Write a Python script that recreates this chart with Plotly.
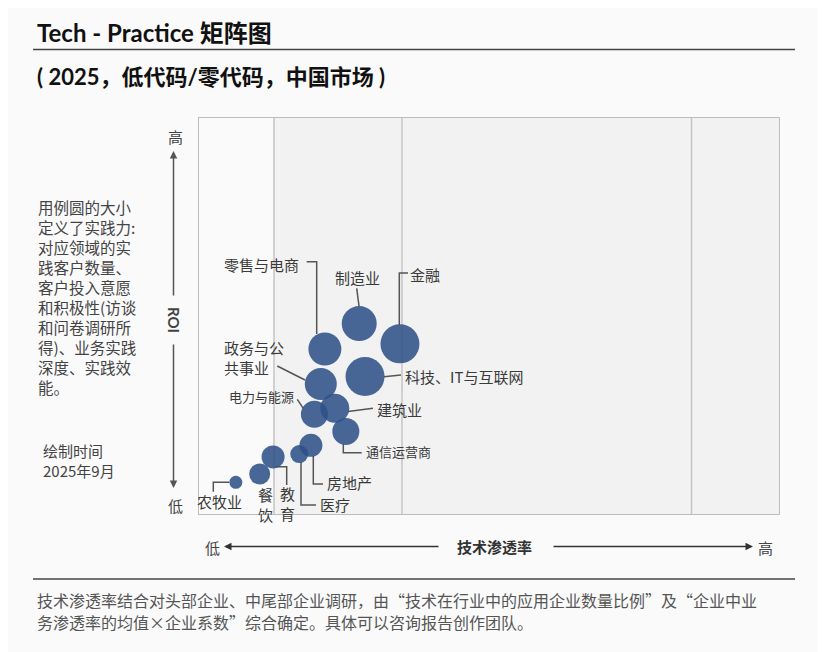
import plotly.graph_objects as go

# ---------------- data ----------------
industries = ["农牧业", "餐饮", "教育", "医疗", "房地产", "通信运营商", "电力与能源",
              "建筑业", "政务与公共事业", "科技、IT与互联网", "零售与电商", "制造业", "金融"]
penetration = [6.5, 10.6, 12.9, 17.4, 19.4, 25.4, 20.0, 23.5, 21.1, 28.7, 21.8, 27.7, 34.7]   # 技术渗透率 (0-100)
roi = [8.2, 10.3, 14.6, 15.3, 17.5, 21.0, 25.3, 26.8, 32.9, 34.8, 41.7, 48.1, 43.0]           # ROI (0-100)
practice = [13, 21, 23, 18, 23, 27, 27, 29, 32, 39, 33, 35, 39]                               # 实践力 (bubble size)
zone_edges = [13.06, 35.05, 84.8]

# ---------------- layout helpers ----------------
OFF = 8                      # page body margin of the browser
W, H = 826 - OFF, 652 - OFF
PL, PR, PT, PB = 198, 780, 117, 515   # plot area in reference page pixels


def dx(px):
    return (px - PL) / (PR - PL) * 100


def dy(py):
    return (PB - py) / (PB - PT) * 100


def ppx(px):
    return (px - PL) / (PR - PL)


def ppy(py):
    return (PB - py) / (PB - PT)


CJK = "Noto Sans CJK SC"
LAT = "Lato, Noto Sans CJK SC"

fig = go.Figure()
fig.add_trace(go.Scatter(
    x=penetration, y=roi, mode="markers", text=industries,
    hovertemplate="%{text}<extra></extra>",
    marker=dict(size=practice, sizemode="diameter", color="#2f5188", opacity=0.88,
                line=dict(width=0)),
    cliponaxis=False, showlegend=False,
))

shapes = []
# light left zone
shapes.append(dict(type="rect", xref="x", yref="y", x0=0, x1=zone_edges[0], y0=0, y1=100,
                   fillcolor="#fafafa", line=dict(width=0), layer="below"))
for e in zone_edges:
    shapes.append(dict(type="line", xref="x", yref="y", x0=e, x1=e, y0=0, y1=100,
                       line=dict(color="#c4c4c4", width=1.5), layer="below"))
shapes.append(dict(type="rect", xref="x", yref="y", x0=0, x1=100, y0=0, y1=100,
                   line=dict(color="#bdbdbd", width=2), layer="below"))

# bubble labels (page-pixel placement) and leader lines
labels = [
    ("农牧业", 219.3, 501.7, "center", 15, [(213.3, 491.7), (213.3, 482.3), (229, 482.3)]),
    ("餐<br>饮", 265, 504, "center", 15, []),
    ("教<br>育", 287.7, 503, "center", 15, [(276, 466.7), (286.7, 466.7), (286.7, 485)]),
    ("医疗", 318.3, 504.3, "left", 15, [(301, 462), (301, 505), (316, 505)]),
    ("房地产", 325, 482.7, "left", 15, [(313.3, 456), (313.3, 484), (323, 484)]),
    ("通信运营商", 364, 451, "left", 13, [(343.3, 444), (343.3, 452.7), (361.7, 452.7)]),
    ("电力与能源", 261.7, 396.7, "center", 13, [(297.3, 399.3), (303.3, 408.3)]),
    ("建筑业", 375, 409.3, "left", 15, [(348, 411.5), (373, 408.3)]),
    ("政务与公<br>共事业", 222, 357, "left", 15, [(277.3, 366), (305, 380)]),
    ("科技、IT与互联网", 403.3, 376.7, "left", 15, [(384, 376.7), (401, 375)]),
    ("零售与电商", 261.7, 264.3, "center", 15, [(306.7, 261.7), (316.7, 261.7), (316.7, 334)]),
    ("制造业", 357.7, 277.7, "center", 15, [(356.7, 288.3), (359, 306)]),
    ("金融", 425, 274.3, "center", 15, [(408, 273), (399.3, 273), (399.3, 325)]),
]

annotations = []
for txt, lx, ly, anc, fs, pts in labels:
    annotations.append(dict(xref="x", yref="y", x=dx(lx), y=dy(ly), text=txt, showarrow=False,
                            xanchor=anc, yanchor="middle", align="left" if anc == "left" else "center",
                            font=dict(family=CJK, size=fs, color="#3a3a3a")))
    if pts:
        path = "M " + " L ".join(f"{dx(a):.3f},{dy(b):.3f}" for a, b in pts)
        shapes.append(dict(type="path", xref="x", yref="y", path=path,
                           line=dict(color="#555555", width=1.5), layer="below"))

# title rules
for yline in (49.5, 579):
    shapes.append(dict(type="line", xref="paper", yref="paper", x0=ppx(33), x1=ppx(795),
                       y0=ppy(yline), y1=ppy(yline), line=dict(color="#444444", width=1.3)))


def page_text(txt, px, py, size, color="#333333", bold=False, anchor="left", family=CJK, angle=0):
    annotations.append(dict(xref="paper", yref="paper", x=ppx(px), y=ppy(py),
                            text=f"<b>{txt}</b>" if bold else txt, showarrow=False,
                            xanchor=anchor, yanchor="middle", align=anchor if anchor != "center" else "center",
                            textangle=angle, font=dict(family=family, size=size, color=color)))


def arrow(tip, tail, color="#444444"):
    annotations.append(dict(xref="paper", yref="paper", x=ppx(tip[0]), y=ppy(tip[1]),
                            ax=tail[0] - tip[0], ay=tail[1] - tip[1], axref="pixel", ayref="pixel",
                            text="", showarrow=True, arrowhead=2, arrowsize=1, arrowwidth=1.5,
                            arrowcolor=color))


page_text("Tech - Practice 矩阵图", 35, 32, 24, color="#111111", bold=True, family=LAT)
page_text("( 2025，低代码/零代码，中国市场 )", 35, 76, 22, color="#111111", bold=True, family=LAT)

left_lines = ["用例圆的大小", "定义了实践力:", "对应领域的实", "践客户数量、", "客户投入意愿",
              "和积极性(访谈", "和问卷调研所", "得)、业务实践", "深度、实践效", "能。"]
for i, ln in enumerate(left_lines):
    page_text(ln, 36, 206.5 + 20 * i, 15.5, color="#444444")
page_text("绘制时间", 41, 450, 15, color="#444444")
page_text("2025年9月", 41, 470, 15, color="#444444")

# ROI axis
page_text("高", 175, 136, 15, color="#444444", anchor="center")
page_text("低", 175, 505, 15, color="#444444", anchor="center")
page_text("ROI", 174, 320, 15, color="#444444", bold=True, anchor="center", family=LAT, angle=90)
arrow((173.5, 151), (173.5, 297), color="#555555")
arrow((173.5, 488), (173.5, 343), color="#555555")

# penetration axis
page_text("低", 212, 547, 15, color="#444444", anchor="center")
page_text("高", 765, 547, 15, color="#444444", anchor="center")
page_text("技术渗透率", 494, 546, 15, color="#333333", bold=True, anchor="center")
arrow((224, 546.5), (440, 546.5), color="#333333")
arrow((753, 546.5), (552, 546.5), color="#333333")

# footer
page_text("技术渗透率结合对头部企业、中尾部企业调研，由“技术在行业中的应用企业数量比例”及“企业中业",
          35, 600, 16, color="#555555")
page_text("务渗透率的均值×企业系数”综合确定。具体可以咨询报告创作团队。", 35, 621.5, 16, color="#555555")

fig.update_layout(
    width=W, height=H,
    margin=dict(l=PL - OFF, r=W - (PR - OFF), t=PT - OFF, b=H - (PB - OFF), pad=0),
    paper_bgcolor="#fafafa", plot_bgcolor="#f2f2f2",
    xaxis=dict(range=[0, 100], visible=False, fixedrange=True),
    yaxis=dict(range=[0, 100], visible=False, fixedrange=True),
    shapes=shapes, annotations=annotations, showlegend=False,
    font=dict(family=CJK),
)

fig.write_html("out.html")
